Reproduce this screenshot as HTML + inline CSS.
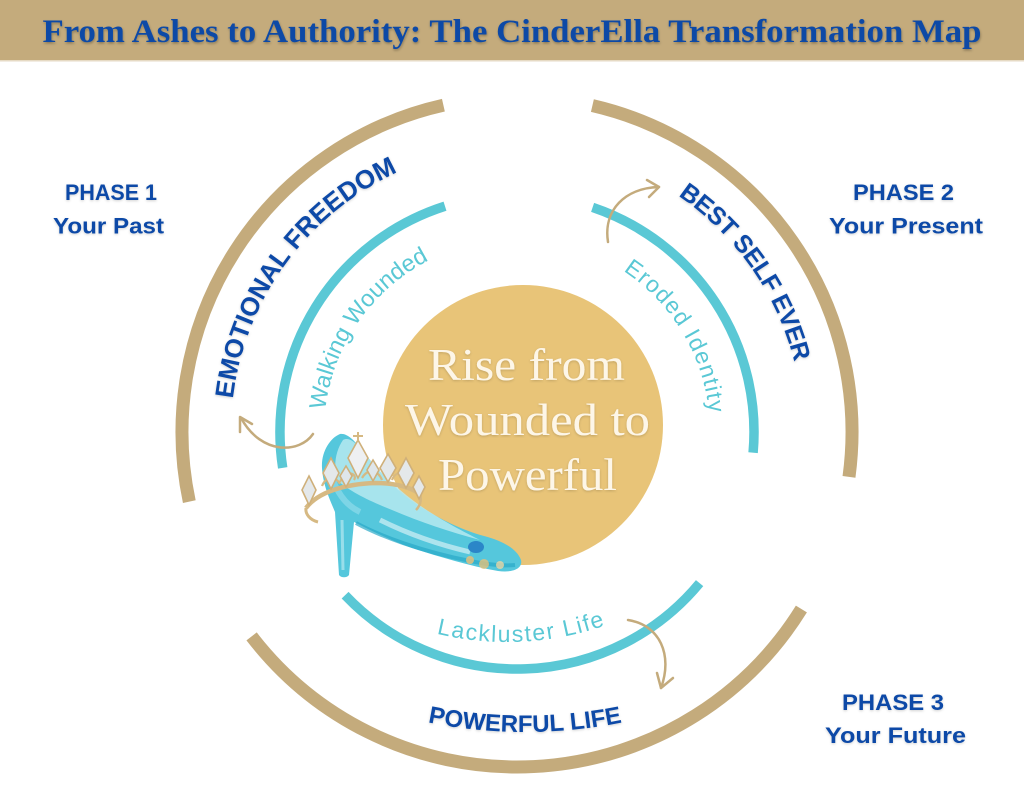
<!DOCTYPE html>
<html><head><meta charset="utf-8"><style>
html,body{margin:0;padding:0;background:#fff;}
svg{display:block;}
</style></head><body>
<svg width="1024" height="791" viewBox="0 0 1024 791" xmlns="http://www.w3.org/2000/svg">
<defs>
<filter id="sh" x="-10%" y="-30%" width="120%" height="160%"><feDropShadow dx="0.5" dy="1.5" stdDeviation="1.2" flood-color="#000" flood-opacity="0.3"/></filter>
<filter id="sh2" x="-10%" y="-30%" width="120%" height="160%"><feDropShadow dx="0" dy="1" stdDeviation="1.2" flood-color="#000" flood-opacity="0.18"/></filter>
<path id="pEmo" d="M255.7,548.3 A286,286 0 0 1 546.9,147.6"/>
<path id="pBest" d="M492.1,147.1 A286,286 0 0 1 776.2,552.9"/>
<path id="pWalk" d="M342.5,514.5 A193,193 0 0 1 532.8,239.7"/>
<path id="pErod" d="M513.6,239 A193,193 0 0 1 685.8,525.6"/>
<path id="pPow" d="M355.4,702.1 A496,496 0 0 0 694.6,702.1"/>
<path id="pLack" d="M379.7,613.7 A300,300 0 0 0 661,599.4"/>
</defs>

<!-- header -->
<rect x="0" y="0" width="1024" height="60" fill="#c4ab7c"/>
<rect x="0" y="60" width="1024" height="1.5" fill="#e6dac4"/>
<text x="512" y="42" text-anchor="middle" font-family="Liberation Serif, serif" font-weight="bold" font-size="33" textLength="939" lengthAdjust="spacingAndGlyphs" fill="#0c4aa6" filter="url(#sh)">From Ashes to Authority: The CinderElla Transformation Map</text>

<!-- outer tan arcs -->
<g fill="none" stroke="#c4ab7c" stroke-width="13">
<path d="M189.3,501.6 A335,335 0 0 1 443.4,105.2"/>
<path d="M592.4,105.6 A335,335 0 0 1 849,476.9"/>
<path d="M801.4,609 A335,335 0 0 1 251.6,636.4"/>
</g>
<!-- teal arcs -->
<g fill="none" stroke="#5ac8d5" stroke-width="9.5">
<path d="M282.7,467.9 A237,237 0 0 1 445,206.2"/>
<path d="M592.6,207.4 A237,237 0 0 1 753.1,452.7"/>
<path d="M699.6,583.1 A237,237 0 0 1 345.1,595.2"/>
</g>

<!-- curved arrows -->
<g fill="none" stroke="#c4ab7c" stroke-width="2.5" stroke-linecap="round" stroke-linejoin="round">
<path d="M313,434 C300,453 262,456 241,418"/>
<path d="M252,424 L240,417 L240,432"/>
<path d="M608,242 C603,210 625,188 659,187"/>
<path d="M647,180 L659,187 L649,197"/>
<path d="M628,620 C660,625 673,655 661,688"/>
<path d="M657,673 L661,688 L673,678"/>
</g>

<!-- arc texts -->
<g font-family="Liberation Sans, sans-serif">
<text font-weight="bold" font-size="26" fill="#0b4aa7" filter="url(#sh2)"><textPath href="#pEmo" startOffset="50%" text-anchor="middle">EMOTIONAL FREEDOM</textPath></text>
<text font-weight="bold" font-size="25" letter-spacing="-0.4" fill="#0b4aa7" filter="url(#sh2)"><textPath href="#pBest" startOffset="50%" text-anchor="middle">BEST SELF EVER</textPath></text>
<text font-weight="bold" font-size="24" fill="#0b4aa7" filter="url(#sh2)"><textPath href="#pPow" startOffset="50%" text-anchor="middle">POWERFUL LIFE</textPath></text>
<text font-size="23.5" fill="#5ac8d5"><textPath href="#pWalk" startOffset="50%" text-anchor="middle">Walking Wounded</textPath></text>
<text font-size="23" letter-spacing="1.2" fill="#5ac8d5"><textPath href="#pErod" startOffset="50%" text-anchor="middle">Eroded Identity</textPath></text>
<text font-size="23" letter-spacing="1.6" fill="#5ac8d5"><textPath href="#pLack" startOffset="50%" text-anchor="middle">Lackluster Life</textPath></text>
</g>

<!-- phase labels -->
<g font-family="Liberation Sans, sans-serif" font-weight="bold" font-size="22" fill="#0b4aa7" text-anchor="middle" filter="url(#sh2)">
<text x="111" y="200" textLength="92" lengthAdjust="spacingAndGlyphs">PHASE 1</text>
<text x="108.5" y="233.5" textLength="111" lengthAdjust="spacingAndGlyphs">Your Past</text>
<text x="903.5" y="200" textLength="101" lengthAdjust="spacingAndGlyphs">PHASE 2</text>
<text x="906" y="233.5" textLength="154" lengthAdjust="spacingAndGlyphs">Your Present</text>
<text x="893" y="710" textLength="102" lengthAdjust="spacingAndGlyphs">PHASE 3</text>
<text x="895.5" y="743" textLength="141" lengthAdjust="spacingAndGlyphs">Your Future</text>
</g>

<!-- center circle -->
<circle cx="523" cy="425" r="140" fill="#e8c478"/>
<g font-family="Liberation Serif, serif" font-size="45" fill="#fdf6e8" text-anchor="middle" filter="url(#sh2)">
<text x="526.5" y="380" textLength="197" lengthAdjust="spacingAndGlyphs">Rise from</text>
<text x="527.5" y="435" textLength="245" lengthAdjust="spacingAndGlyphs">Wounded to</text>
<text x="527.5" y="490" textLength="179" lengthAdjust="spacingAndGlyphs">Powerful</text>
</g>

<!-- glass slipper -->
<g>
<path d="M340,434 C330,438 321,452 322,468 C323,486 331,502 335,512 L339,575 C341,578 347,578 349,575 L354,522 C372,531 392,541 412,548 C440,557 470,566 498,571 C512,573 523,569 521,560 C517,549 503,541 484,536 C458,529 432,515 412,501 C394,488 376,468 362,450 C354,440 347,433 340,434 Z" fill="#55c7dc"/>
<path d="M343,440 C336,450 333,465 337,480 C350,492 372,502 392,510 C420,522 450,532 480,540 C460,530 430,514 410,498 C392,484 374,466 360,448 C354,441 348,437 343,440 Z" fill="#b6e9f0" opacity="0.85"/>
<path d="M356,523 C380,536 420,551 470,561 C490,565 505,566 515,565" fill="none" stroke="#2aa9c8" stroke-width="4" opacity="0.7"/>
<path d="M342,520 L343,570" stroke="#a9e4ee" stroke-width="3" opacity="0.8"/>
<path d="M380,520 C410,535 440,545 470,552" fill="none" stroke="#e8f7fa" stroke-width="5" opacity="0.6"/>
<path d="M330,470 C335,490 345,505 360,512" fill="none" stroke="#8fdbe9" stroke-width="6" opacity="0.7"/>
<circle cx="470" cy="560" r="4" fill="#e2c07c" opacity="0.85"/>
<circle cx="484" cy="564" r="5" fill="#e2c07c" opacity="0.8"/>
<circle cx="500" cy="565" r="4" fill="#e8d5a4" opacity="0.8"/>
<ellipse cx="476" cy="547" rx="8" ry="6" fill="#2b86c8"/>
<!-- tiara -->
<g stroke="#cfb07a" stroke-width="1.6">
<path d="M306,508 C318,492 345,484 375,483 C395,483 410,487 420,494" fill="none" stroke="#d6b983" stroke-width="4.5"/>
<path d="M306,508 C305,514 310,520 318,522" fill="none" stroke="#d6b983" stroke-width="3"/>
<path d="M420,494 C422,500 420,506 416,510" fill="none" stroke="#d6b983" stroke-width="2.5"/>
<path d="M322,486 C326,476 336,476 340,484 M340,482 C346,468 358,474 354,480 M362,478 C368,468 378,470 382,480 M392,480 C396,470 404,472 406,482" fill="none" stroke="#d6b983" stroke-width="2.2"/>
<path d="M309,476 L316,490 L309,505 L302,490 Z" fill="#e4e8ea"/>
<path d="M331,458 L339,473 L331,489 L323,473 Z" fill="#e4e8ea"/>
<path d="M346,466 L352,476 L346,487 L340,476 Z" fill="#dfe6ea"/>
<path d="M358,440 L368,458 L358,478 L348,458 Z" fill="#eef0f2"/>
<path d="M373,460 L379,470 L373,481 L367,470 Z" fill="#dfe6ea"/>
<path d="M388,454 L396,468 L388,482 L380,468 Z" fill="#e4e8ea"/>
<path d="M406,458 L414,473 L406,488 L398,473 Z" fill="#e4e8ea"/>
<path d="M419,476 L425,487 L419,499 L413,487 Z" fill="#e4e8ea"/>
<path d="M358,432 L358,441 M353,436 L363,436" fill="none" stroke="#d6b983" stroke-width="2"/>
</g>
</g>
</svg>
</body></html>
